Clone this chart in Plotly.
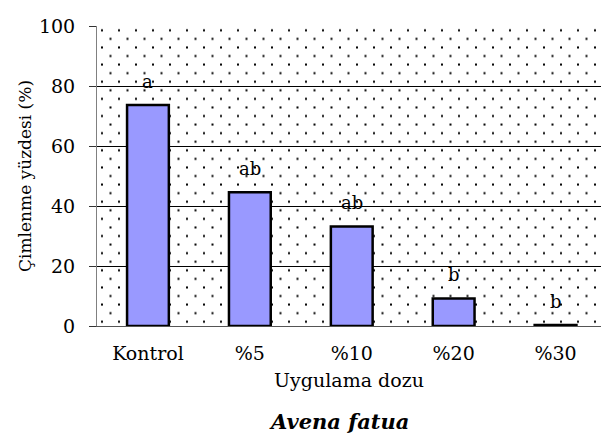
import base64
import plotly.graph_objects as go

# ---- data ----
categories = ["Kontrol", "%5", "%10", "%20", "%30"]
values = [73.7, 44.6, 33.2, 9.2, 0.3]
letters = ["a", "ab", "ab", "b", "b"]
y_ticks = [0, 20, 40, 60, 80, 100]

FONT = "DejaVu Serif"

# ---- dotted plot-area texture (decoration only) ----
PW, PH = 504, 300
svg = (
    f'<svg xmlns="http://www.w3.org/2000/svg" width="{PW}" height="{PH}" '
    f'viewBox="0 0 {PW} {PH}"><defs><pattern id="p" patternUnits="userSpaceOnUse" '
    f'width="17" height="17.142857">'
    f'<rect x="4" y="3.3" width="2" height="2" fill="#000"/>'
    f'<rect x="12.5" y="11.87" width="2" height="2" fill="#000"/>'
    f'</pattern></defs><rect width="{PW}" height="{PH}" fill="url(#p)"/></svg>'
)
svg_uri = "data:image/svg+xml;base64," + base64.b64encode(svg.encode()).decode()

fig = go.Figure()
fig.add_trace(go.Bar(
    x=categories, y=values, width=0.41,
    marker=dict(color="#9999FF", line=dict(color="#000000", width=2.5)),
    showlegend=False, hoverinfo="x+y",
))

for c, v, t in zip(categories, values, letters):
    fig.add_annotation(x=c, y=v, text=t, showarrow=False, yanchor="bottom",
                       yshift=11, font=dict(family=FONT, size=18, color="#000"))

fig.add_annotation(xref="paper", yref="paper", x=0.48, y=-0.317, yanchor="middle",
                   text="<b><i>Avena fatua</i></b>", showarrow=False,
                   font=dict(family=FONT, size=21, color="#000"))

fig.add_layout_image(source=svg_uri, xref="x domain", yref="y domain", x=0, y=1,
                     sizex=1, sizey=1, xanchor="left", yanchor="top",
                     sizing="stretch", layer="below")

fig.update_layout(
    width=601, height=435,
    margin=dict(l=97, r=0, t=26, b=109),
    paper_bgcolor="white", plot_bgcolor="rgba(0,0,0,0)",
    font=dict(family=FONT, size=19, color="#000"),
    bargap=0.59,
    xaxis=dict(
        range=[-0.5, 4.446], showgrid=False, showline=True, linecolor="#555",
        linewidth=1, ticks="", ticklabelstandoff=10,
        tickfont=dict(family=FONT, size=19),
        title=dict(text="Uygulama dozu", standoff=10, font=dict(family=FONT, size=19)),
    ),
    yaxis=dict(
        range=[0, 100], tickvals=y_ticks, showgrid=True, gridcolor="#000",
        gridwidth=1, zeroline=False, showline=True, linecolor="#808080",
        linewidth=1, ticks="outside", ticklen=7, tickcolor="#333",
        ticklabelstandoff=10, tickfont=dict(family=FONT, size=19),
        title=dict(text="Çimlenme yüzdesi (%)", standoff=2,
                   font=dict(family=FONT, size=17)),
    ),
)

fig.write_html("out.html")
